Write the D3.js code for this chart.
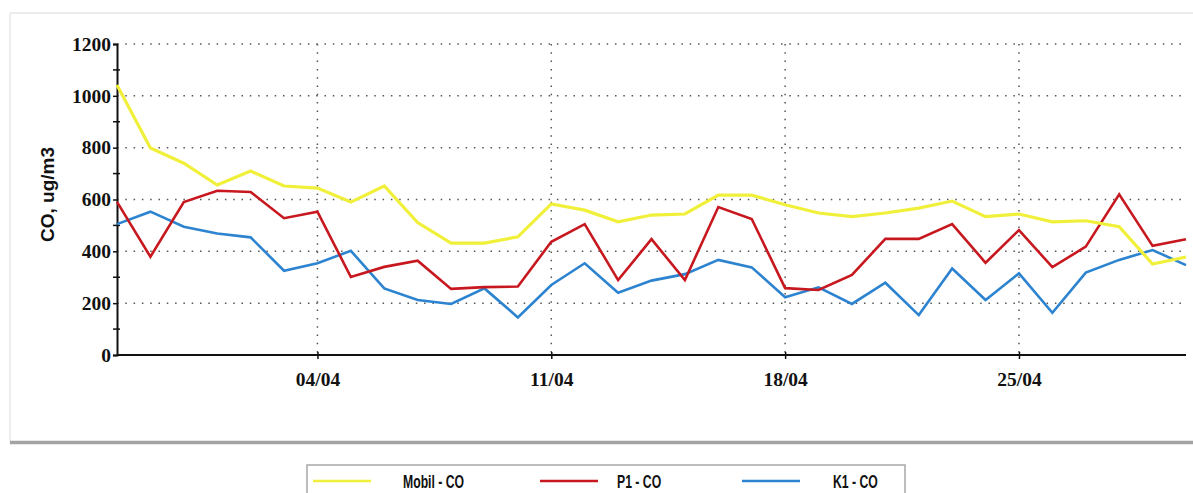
<!DOCTYPE html>
<html>
<head>
<meta charset="utf-8">
<script src="https://cdn.jsdelivr.net/npm/d3@7"></script>
<style>
  body { margin: 0; background: #fff; }
  svg { display: block; }
</style>
</head>
<body>
<div id="chart"></div>
<script>
const width = 1193;
const height = 493;

// daily dates, 29/03 .. 30/04
const dates = [
  "2013-03-29", "2013-03-30", "2013-03-31", "2013-04-01", "2013-04-02", "2013-04-03",
  "2013-04-04", "2013-04-05", "2013-04-06", "2013-04-07", "2013-04-08", "2013-04-09",
  "2013-04-10", "2013-04-11", "2013-04-12", "2013-04-13", "2013-04-14", "2013-04-15",
  "2013-04-16", "2013-04-17", "2013-04-18", "2013-04-19", "2013-04-20", "2013-04-21",
  "2013-04-22", "2013-04-23", "2013-04-24", "2013-04-25", "2013-04-26", "2013-04-27",
  "2013-04-28", "2013-04-29", "2013-04-30"
];

const mobil = [1042, 799, 740, 656, 710, 652, 644, 590, 652, 511, 432, 432, 456,
  583, 559, 514, 540, 544, 617, 617, 580, 548, 534, 548, 567, 594, 534, 544,
  514, 518, 495, 351, 378];
const p1 = [591, 379, 590, 634, 629, 528, 553, 301, 340, 364, 255, 262, 264,
  437, 505, 289, 447, 289, 571, 525, 258, 251, 309, 448, 448, 505, 356, 482,
  339, 418, 620, 421, 447];
const k1 = [505, 553, 495, 469, 454, 325, 354, 402, 257, 212, 197, 257, 145,
  270, 354, 240, 287, 312, 367, 338, 223, 261, 197, 279, 154, 334, 212, 315,
  163, 318, 367, 405, 347];

const seriesNames = ["Mobil - CO", "P1 - CO", "K1 - CO"];
const seriesColors = ["#f0f03a", "#c8181f", "#2c83cf"];
const xTickDates = ["2013-04-04", "2013-04-11", "2013-04-18", "2013-04-25"];
const yMajor = [0, 200, 400, 600, 800, 1000, 1200];
const yMinor = [100, 300, 500, 700, 900, 1100];

const parse = d3.utcParse("%Y-%m-%d");
const plot = { left: 117, right: 1186, top: 44, bottom: 355 };

const svg = d3.select("#chart")
  .append("svg")
  .attr("width", width)
  .attr("height", height);

// panel frame
svg.append("line").attr("x1", 10).attr("x2", width).attr("y1", 13).attr("y2", 13)
  .attr("stroke", "#ececec").attr("stroke-width", 2);
svg.append("line").attr("x1", 10).attr("x2", 10).attr("y1", 13).attr("y2", 442)
  .attr("stroke", "#eeeeee").attr("stroke-width", 2);
svg.append("line").attr("x1", 10).attr("x2", width).attr("y1", 442.5).attr("y2", 442.5)
  .attr("stroke", "#a3a3a3").attr("stroke-width", 3.5);

const x = d3.scaleUtc()
  .domain([parse(dates[0]), parse(dates[dates.length - 1])])
  .range([plot.left, plot.right]);

const y = d3.scaleLinear()
  .domain([0, 1200])
  .range([plot.bottom, plot.top]);

const dotted = { stroke: "#555", width: 1.5, dash: "1.5,6.8" };

// horizontal grid
svg.append("g")
  .selectAll("line")
  .data(yMajor.filter((v) => v > 0))
  .join("line")
  .attr("x1", plot.left).attr("x2", plot.right)
  .attr("y1", (d) => y(d)).attr("y2", (d) => y(d))
  .attr("stroke", dotted.stroke)
  .attr("stroke-width", dotted.width)
  .attr("stroke-dasharray", dotted.dash);

// vertical grid
svg.append("g")
  .selectAll("line")
  .data(xTickDates.map(parse))
  .join("line")
  .attr("x1", (d) => x(d)).attr("x2", (d) => x(d))
  .attr("y1", plot.top).attr("y2", plot.bottom)
  .attr("stroke", dotted.stroke)
  .attr("stroke-width", dotted.width)
  .attr("stroke-dasharray", dotted.dash);

const tickFont = "Liberation Serif, Times New Roman, serif";

// y axis
const yAxis = svg.append("g")
  .attr("transform", `translate(${plot.left},0)`)
  .call(d3.axisLeft(y).tickValues(yMajor).tickFormat(d3.format("d")).tickSize(4).tickPadding(2));
yAxis.select(".domain").attr("stroke", "#111").attr("stroke-width", 2);
yAxis.selectAll(".tick line").attr("stroke", "#111").attr("stroke-width", 1.5).attr("x2", -4);
yAxis.selectAll(".tick text")
  .attr("font-family", tickFont)
  .attr("font-weight", "bold")
  .attr("font-size", 19.5)
  .attr("fill", "#111");
yAxis.append("g")
  .selectAll("line")
  .data(yMinor)
  .join("line")
  .attr("x1", -4).attr("x2", 3)
  .attr("y1", (d) => y(d)).attr("y2", (d) => y(d))
  .attr("stroke", "#111").attr("stroke-width", 1.5);

// x axis
const xAxis = svg.append("g")
  .attr("transform", `translate(0,${plot.bottom})`)
  .call(d3.axisBottom(x)
    .tickValues(xTickDates.map(parse))
    .tickFormat(d3.utcFormat("%d/%m"))
    .tickSize(4)
    .tickPadding(13));
xAxis.select(".domain").attr("stroke", "#111").attr("stroke-width", 2)
  .attr("d", `M${plot.left},0H${plot.right}`);
xAxis.selectAll(".tick line").attr("stroke", "#111").attr("stroke-width", 1.5).attr("y1", -3);
xAxis.selectAll(".tick text")
  .attr("font-family", tickFont)
  .attr("font-weight", "bold")
  .attr("font-size", 19.5)
  .attr("fill", "#111");

// y axis title
svg.append("text")
  .attr("transform", `translate(54,${(plot.top + plot.bottom) / 2 - 5}) rotate(-90)`)
  .attr("text-anchor", "middle")
  .attr("font-family", "Liberation Sans, Arial, sans-serif")
  .attr("font-weight", "bold")
  .attr("font-size", 19)
  .attr("fill", "#111")
  .text("CO, ug/m3");

// lines
const allSeries = [mobil, p1, k1];
const line = d3.line()
  .x((d, i) => x(parse(dates[i])))
  .y((d) => y(d));

[2, 1, 0].forEach((s) => {
  svg.append("path")
    .datum(allSeries[s])
    .attr("fill", "none")
    .attr("stroke", seriesColors[s])
    .attr("stroke-width", s === 0 ? 3.2 : 2.6)
    .attr("stroke-linejoin", "miter")
    .attr("d", line);
});

// legend
svg.append("rect")
  .attr("x", 307).attr("y", 465)
  .attr("width", 598).attr("height", 40)
  .attr("fill", "#fff")
  .attr("stroke", "#a8a8a8")
  .attr("stroke-width", 1.5);

const legendX = [313, 540, 742];
const legend = svg.append("g")
  .selectAll("g")
  .data(seriesNames)
  .join("g")
  .attr("transform", (d, i) => `translate(${legendX[i]},481)`);

legend.append("line")
  .attr("x1", 0).attr("x2", 58)
  .attr("stroke", (d, i) => seriesColors[i])
  .attr("stroke-width", 2.6);

legend.append("text")
  .attr("transform", (d, i) => `translate(${i === 0 ? 90 : i === 1 ? 77 : 91},6.5) scale(0.68,1)`)
  .attr("font-family", "Liberation Sans, Arial, sans-serif")
  .attr("font-weight", "bold")
  .attr("font-size", 18)
  .attr("fill", "#111")
  .text((d) => d);
</script>
</body>
</html>
